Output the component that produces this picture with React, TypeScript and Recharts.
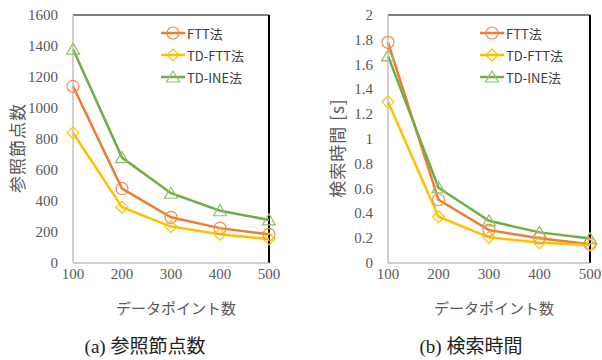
import React from 'react';
import {
  LineChart,
  Line,
  XAxis,
  YAxis,
  ReferenceLine,
} from 'recharts';

const categories = [100, 200, 300, 400, 500];

// (a) reference node counts
const fttNodes = [1140, 480, 295, 225, 185];
const tdFttNodes = [840, 360, 235, 185, 155];
const tdIneNodes = [1380, 680, 450, 337, 278];
const nodeTicks = [0, 200, 400, 600, 800, 1000, 1200, 1400, 1600];

// (b) search time [s]
const fttTime = [1.78, 0.51, 0.265, 0.2, 0.152];
const tdFttTime = [1.3, 0.373, 0.207, 0.164, 0.145];
const tdIneTime = [1.67, 0.607, 0.34, 0.247, 0.197];
const timeTicks = [0, 0.2, 0.4, 0.6, 0.8, 1, 1.2, 1.4, 1.6, 1.8, 2];

const seriesNames = ['FTT法', 'TD-FTT法', 'TD-INE法'];
const lineColors = ['#ED7D31', '#FFC000', '#70AD47'];
const markColors = ['#F08C50', '#FFC000', '#8CC168'];

const sans = '"Noto Sans CJK JP", "Noto Sans", sans-serif';
const serif = '"Liberation Serif", "DejaVu Serif", serif';

const buildRows = (a: number[], b: number[], c: number[]) =>
  categories.map((x, i) => ({ x, s0: a[i], s1: b[i], s2: c[i] }));

const nodeRows = buildRows(fttNodes, tdFttNodes, tdIneNodes);
const timeRows = buildRows(fttTime, tdFttTime, tdIneTime);

const Marker = ({ kind, cx, cy, color }: { kind: number; cx: number; cy: number; color: string }) => {
  if (kind === 0) return <circle cx={cx} cy={cy} r={6} fill="none" stroke={color} strokeWidth={1.2} />;
  if (kind === 1)
    return (
      <polygon
        points={`${cx},${cy - 6} ${cx + 6},${cy} ${cx},${cy + 6} ${cx - 6},${cy}`}
        fill="none"
        stroke={color}
        strokeWidth={1.2}
      />
    );
  return (
    <polygon
      points={`${cx},${cy - 6} ${cx + 6.5},${cy + 5} ${cx - 6.5},${cy + 5}`}
      fill="none"
      stroke={color}
      strokeWidth={1.2}
    />
  );
};

const LegendBox = ({ left }: { left: number }) => (
  <div style={{ position: 'absolute', left, top: 22, fontFamily: sans, fontSize: 13, color: '#404040' }}>
    {seriesNames.map((n, i) => (
      <div key={n} style={{ display: 'flex', alignItems: 'center', height: 22 }}>
        <svg width={25} height={20} style={{ display: 'block' }}>
          <line x1={0} y1={10} x2={24} y2={10} stroke={lineColors[i]} strokeWidth={2.5} />
          <Marker kind={i} cx={12} cy={10} color={markColors[i]} />
        </svg>
        <span style={{ marginLeft: 1 }}>{n}</span>
      </div>
    ))}
  </div>
);

const YTitle = ({ cx, cy, text }: { cx: number; cy: number; text: string }) => (
  <div
    style={{
      position: 'absolute',
      left: cx - 60,
      top: cy - 12,
      width: 120,
      height: 24,
      lineHeight: '24px',
      textAlign: 'center',
      transform: 'rotate(-90deg)',
      fontFamily: sans,
      fontSize: 17,
      letterSpacing: 1,
      color: '#595959',
      whiteSpace: 'nowrap',
    }}
  >
    {text}
  </div>
);

const XTick = (p: any) => (
  <text x={p.x} y={p.y + 14} textAnchor="middle" fill="#595959" style={{ fontFamily: serif, fontSize: 15 }}>
    {p.payload.value}
  </text>
);

const YTick = (p: any) => (
  <text x={p.x - 13} y={p.y + 5} textAnchor="end" fill="#595959" style={{ fontFamily: serif, fontSize: 15 }}>
    {p.payload.value}
  </text>
);

interface PanelProps {
  rows: { x: number; s0: number; s1: number; s2: number }[];
  ticks: number[];
  yWidth: number;
  rightMargin: number;
  yTitle: string;
  yTitleX: number;
  legendLeft: number;
}

const Panel: React.FC<PanelProps> = ({ rows, ticks, yWidth, rightMargin, yTitle, yTitleX, legendLeft }) => {
  const top = ticks[ticks.length - 1];
  return (
    <div style={{ position: 'relative', width: 301, height: 320 }}>
      <LineChart
        width={301}
        height={320}
        data={rows}
        margin={{ top: 15, right: rightMargin, bottom: 0, left: 0 }}
      >
        <XAxis
          dataKey="x"
          type="number"
          domain={[categories[0], categories[categories.length - 1]]}
          ticks={categories}
          interval={0}
          height={57}
          axisLine={{ stroke: '#BFBFBF', strokeWidth: 1.5 }}
          tickLine={false}
          tickSize={0}
          tick={<XTick />}
          label={{
            value: 'データポイント数',
            position: 'insideBottom',
            offset: 6,
            dx: 5,
            fontFamily: sans,
            fontSize: 15,
            fill: '#595959',
          }}
        />
        <YAxis
          type="number"
          domain={[0, top]}
          ticks={ticks}
          interval={0}
          width={yWidth}
          axisLine={{ stroke: '#BFBFBF', strokeWidth: 1.5 }}
          tickLine={false}
          tickSize={0}
          tick={<YTick />}
        />
        <ReferenceLine y={top} stroke="#000" strokeWidth={1.2} />
        <ReferenceLine x={categories[categories.length - 1]} stroke="#000" strokeWidth={2} />
        {[0, 1, 2].map((i) => (
          <Line
            key={i}
            dataKey={`s${i}`}
            name={seriesNames[i]}
            type="linear"
            stroke={lineColors[i]}
            strokeWidth={2.5}
            isAnimationActive={false}
            dot={(p: any) => <Marker key={p.index} kind={i} cx={p.cx} cy={p.cy} color={markColors[i]} />}
            activeDot={false}
          />
        ))}
      </LineChart>
      <YTitle cx={yTitleX} cy={148} text={yTitle} />
      <LegendBox left={legendLeft} />
    </div>
  );
};

const captionStyle: React.CSSProperties = {
  position: 'absolute',
  top: 335,
  width: 200,
  textAlign: 'center',
  fontFamily: '"Liberation Serif", "Noto Sans CJK JP", serif',
  fontSize: 19,
  color: '#222',
  lineHeight: '24px',
};

export default function App() {
  return (
    <div style={{ position: 'absolute', left: 0, top: 0, width: 602, height: 360, background: '#fff' }}>
      <div style={{ position: 'absolute', left: 0, top: 0 }}>
        <Panel
          rows={nodeRows}
          ticks={nodeTicks}
          yWidth={73}
          rightMargin={32}
          yTitle="参照節点数"
          yTitleX={17}
          legendLeft={161}
        />
      </div>
      <div style={{ position: 'absolute', left: 301, top: 0 }}>
        <Panel
          rows={timeRows}
          ticks={timeTicks}
          yWidth={87}
          rightMargin={12}
          yTitle="検索時間 [s]"
          yTitleX={36}
          legendLeft={179}
        />
      </div>
      <div style={{ ...captionStyle, left: 45 }}>(a) 参照節点数</div>
      <div style={{ ...captionStyle, left: 371 }}>(b) 検索時間</div>
    </div>
  );
}
